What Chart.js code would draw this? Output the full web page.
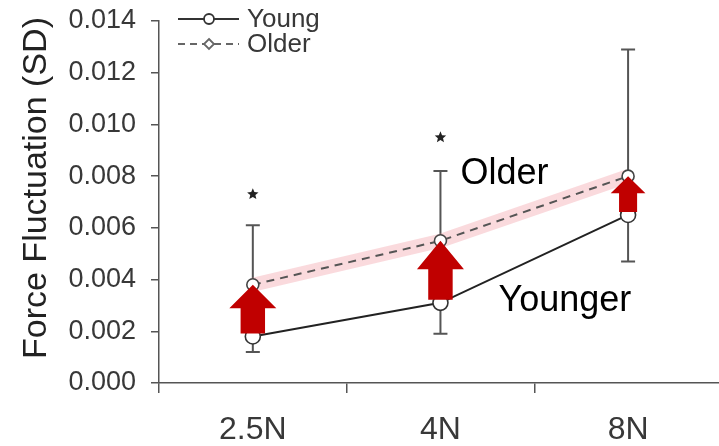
<!DOCTYPE html>
<html>
<head>
<meta charset="utf-8">
<style>
  html, body { margin: 0; padding: 0; background: #ffffff; overflow: hidden; width: 719px; height: 446px; }
  canvas { display: block; }
</style>
<script src="https://cdn.jsdelivr.net/npm/chart.js@4/dist/chart.umd.min.js"></script>
</head>
<body>
<canvas id="c" width="731" height="446"></canvas>
<script>
// ---- data ----
const categories = ['2.5N', '4N', '8N'];
const youngMean = [0.0018, 0.0031, 0.0065];
const youngSD   = [0.0006, 0.0012, 0.0018];
const olderMean = [0.0038, 0.0055, 0.0080];
const olderSD   = [0.0023, 0.0027, 0.0049];
const starValues = [0.0073, 0.0095, null];
const yTickValues = [0, 0.002, 0.004, 0.006, 0.008, 0.010, 0.012, 0.014];
const seriesNames = ['Young', 'Older'];
const yTitle = 'Force Fluctuation (SD)';
const annotationLabels = ['Older', 'Younger'];

const FONT = '"Liberation Sans", Arial, Helvetica, sans-serif';
const AXIS_GRAY = '#555555';
const TEXT_GRAY = '#383838';

// error bars (young downward, older upward) drawn beneath markers
const errorBarPlugin = {
  id: 'errorBars',
  beforeDatasetsDraw(chart) {
    const { ctx, scales: { x, y } } = chart;
    ctx.save();
    ctx.strokeStyle = AXIS_GRAY;
    ctx.lineWidth = 2;
    const cap = 7;
    categories.forEach((c, i) => {
      const px = x.getPixelForValue(i);
      const y0 = y.getPixelForValue(youngMean[i]);
      const y1 = y.getPixelForValue(youngMean[i] - youngSD[i]);
      ctx.beginPath();
      ctx.moveTo(px, y0); ctx.lineTo(px, y1);
      ctx.moveTo(px - cap, y1); ctx.lineTo(px + cap, y1);
      ctx.stroke();
      const o0 = y.getPixelForValue(olderMean[i]);
      const o1 = y.getPixelForValue(olderMean[i] + olderSD[i]);
      ctx.beginPath();
      ctx.moveTo(px, o0); ctx.lineTo(px, o1);
      ctx.moveTo(px - cap, o1); ctx.lineTo(px + cap, o1);
      ctx.stroke();
    });
    ctx.restore();
  }
};

function drawStar(ctx, cx, cy, r) {
  ctx.beginPath();
  for (let k = 0; k < 10; k++) {
    const rad = k % 2 === 0 ? r : r * 0.45;
    const a = -Math.PI / 2 + k * Math.PI / 5;
    const px = cx + rad * Math.cos(a), py = cy + rad * Math.sin(a);
    if (k === 0) ctx.moveTo(px, py); else ctx.lineTo(px, py);
  }
  ctx.closePath();
  ctx.fill();
}

const overlayPlugin = {
  id: 'overlay',
  afterDatasetsDraw(chart) {
    const { ctx, scales: { x, y } } = chart;
    ctx.save();
    ctx.fillStyle = '#222';
    starValues.forEach((v, i) => {
      if (v == null) return;
      drawStar(ctx, x.getPixelForValue(i), y.getPixelForValue(v), 6);
    });
    ctx.fillStyle = '#C00000';
    categories.forEach((c, i) => {
      const px = x.getPixelForValue(i);
      const top = y.getPixelForValue(olderMean[i]);
      const bot = y.getPixelForValue(youngMean[i]) - 3;
      const L = bot - top;
      const headH = 0.48 * L;
      const headW = Math.min(47, 0.97 * L);
      const shaftW = headW * 0.52;
      ctx.beginPath();
      ctx.moveTo(px, top);
      ctx.lineTo(px + headW / 2, top + headH);
      ctx.lineTo(px + shaftW / 2, top + headH);
      ctx.lineTo(px + shaftW / 2, bot);
      ctx.lineTo(px - shaftW / 2, bot);
      ctx.lineTo(px - shaftW / 2, top + headH);
      ctx.lineTo(px - headW / 2, top + headH);
      ctx.closePath();
      ctx.fill();
    });
    ctx.fillStyle = '#000';
    ctx.font = '36px ' + FONT;
    ctx.textAlign = 'left';
    ctx.textBaseline = 'alphabetic';
    const x4 = x.getPixelForValue(1);
    ctx.fillText(annotationLabels[0], x4 + 20, y.getPixelForValue(0.0077));
    ctx.fillText(annotationLabels[1], x4 + 58, y.getPixelForValue(0.0028));
    ctx.restore();
  },
  afterDraw(chart) {
    const { ctx } = chart;
    ctx.save();
    ctx.translate(37, 188);
    ctx.rotate(-Math.PI / 2);
    ctx.fillStyle = '#222';
    ctx.font = '34px ' + FONT;
    ctx.textAlign = 'center';
    ctx.textBaseline = 'middle';
    ctx.fillText(yTitle, 0, 0);
    ctx.restore();

    ctx.save();
    const lx0 = 178, lx1 = 239, mx = 209, ly = [19, 44];
    ctx.strokeStyle = '#333';
    ctx.lineWidth = 1.8;
    ctx.beginPath(); ctx.moveTo(lx0, ly[0]); ctx.lineTo(lx1, ly[0]); ctx.stroke();
    ctx.fillStyle = '#fff';
    ctx.beginPath(); ctx.arc(mx, ly[0], 5, 0, Math.PI * 2); ctx.fill(); ctx.stroke();
    ctx.setLineDash([7, 5]);
    ctx.strokeStyle = '#666';
    ctx.beginPath(); ctx.moveTo(lx0, ly[1]); ctx.lineTo(lx1, ly[1]); ctx.stroke();
    ctx.setLineDash([]);
    ctx.beginPath();
    ctx.moveTo(mx, ly[1] - 5); ctx.lineTo(mx + 5, ly[1]); ctx.lineTo(mx, ly[1] + 5); ctx.lineTo(mx - 5, ly[1]); ctx.closePath();
    ctx.fill(); ctx.stroke();
    ctx.fillStyle = TEXT_GRAY;
    ctx.font = '26px ' + FONT;
    ctx.textAlign = 'left';
    ctx.textBaseline = 'middle';
    ctx.fillText(seriesNames[0], 247, ly[0] + 1);
    ctx.fillText(seriesNames[1], 247, ly[1] + 1);
    ctx.restore();
  }
};

new Chart(document.getElementById('c'), {
  type: 'line',
  data: {
    labels: categories,
    datasets: [
      {
        label: seriesNames[0],
        data: youngMean,
        borderColor: '#222',
        borderWidth: 2,
        pointRadius: 7.5,
        pointBorderWidth: 1.6,
        pointBackgroundColor: '#fff',
        pointBorderColor: '#333',
        tension: 0,
        order: 1
      },
      {
        label: seriesNames[1],
        data: olderMean,
        borderColor: '#555',
        borderWidth: 2,
        borderDash: [8, 6],
        pointRadius: 6,
        pointBorderWidth: 1.6,
        pointBackgroundColor: '#fff',
        pointBorderColor: '#444',
        tension: 0,
        order: 2
      },
      {
        label: 'band',
        data: olderMean,
        borderColor: 'rgba(240, 140, 150, 0.32)',
        borderWidth: 14,
        borderCapStyle: 'butt',
        pointRadius: 0,
        tension: 0,
        order: 5
      }
    ]
  },
  options: {
    responsive: false,
    animation: false,
    layout: { padding: { top: 21, right: 0, left: 0, bottom: 0 } },
    plugins: { legend: { display: false }, tooltip: { enabled: false } },
    scales: {
      x: {
        type: 'category',
        offset: true,
        grid: { offset: true, drawOnChartArea: false, drawTicks: true, tickLength: 10, color: AXIS_GRAY, lineWidth: 1.5 },
        border: { display: true, color: AXIS_GRAY, width: 1.5 },
        ticks: { color: TEXT_GRAY, font: { family: FONT, size: 32 }, padding: 18, maxRotation: 0 },
        afterFit(scale) {
          scale.height = 63;
          scale.paddingLeft = 0; scale.paddingRight = 0;
          scale.paddingTop = 0; scale.paddingBottom = 0;
        }
      },
      y: {
        min: 0,
        max: 0.014,
        afterBuildTicks(scale) { scale.ticks = yTickValues.map(v => ({ value: v })); },
        grid: { drawOnChartArea: false, drawTicks: true, tickLength: 8, color: AXIS_GRAY, lineWidth: 1.5 },
        border: { display: true, color: AXIS_GRAY, width: 1.5 },
        ticks: {
          color: TEXT_GRAY,
          font: { family: FONT, size: 27 },
          padding: 15,
          autoSkip: false,
          callback: (v) => Number(v).toFixed(3)
        },
        afterFit(scale) {
          scale.width = 159;
          scale.paddingLeft = 0; scale.paddingRight = 0;
          scale.paddingTop = 0; scale.paddingBottom = 0;
        }
      }
    }
  },
  plugins: [errorBarPlugin, overlayPlugin]
});
</script>
</body>
</html>
